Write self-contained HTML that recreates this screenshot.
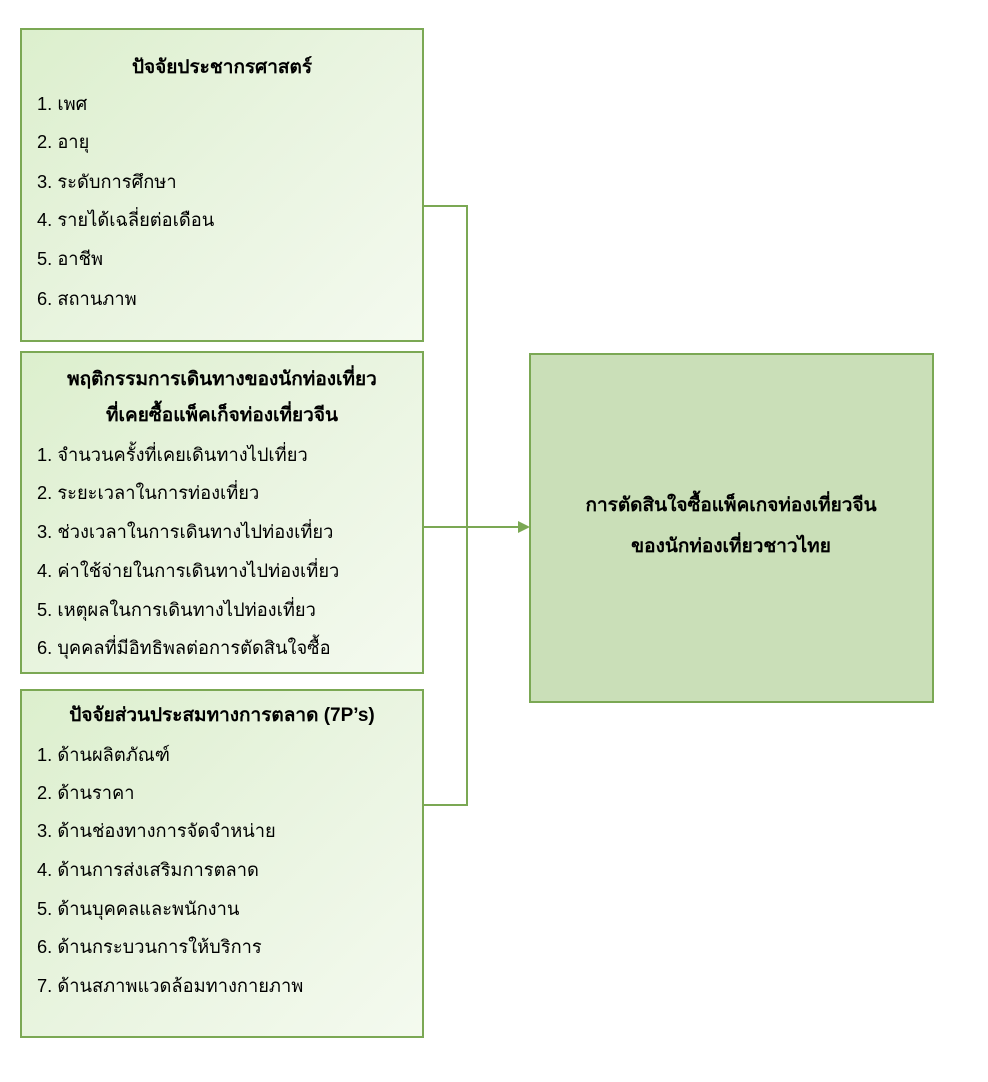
<!DOCTYPE html>
<html><head><meta charset="utf-8"><style>
body{margin:0;width:988px;height:1082px;background:#fff;position:relative;font-family:"Liberation Sans","DejaVu Sans",sans-serif;color:#000;overflow:hidden}
.box{position:absolute;border:2px solid #7ba854;box-sizing:border-box;background:linear-gradient(135deg,#dcefcd 0%,#e9f4e0 50%,#f4faef 100%)}
.t{position:absolute;font-size:18.3px;white-space:nowrap;line-height:24px}
.b{font-weight:bold;font-size:19px}
.c{transform:translateX(-50%)}
</style></head><body>
<div class="box" style="left:20px;top:28px;width:404px;height:314px"></div>
<div class="box" style="left:20px;top:351px;width:404px;height:323px"></div>
<div class="box" style="left:20px;top:689px;width:404px;height:349px"></div>
<div class="box" style="left:529px;top:353px;width:405px;height:350px;background:#cadfb8"></div>
<svg style="position:absolute;left:0;top:0" width="988" height="1082">
<polyline points="424,206 467,206 467,805 424,805" fill="none" stroke="#7ba854" stroke-width="2"/>
<line x1="424" y1="527" x2="520" y2="527" stroke="#7ba854" stroke-width="2"/>
<polygon points="530,527 518,521 518,533" fill="#7ba854"/>
</svg>
<div class="t b c" style="left:222px;top:56px">ปัจจัยประชากรศาสตร์</div>
<div class="t" style="left:37px;top:92px">1. เพศ</div>
<div class="t" style="left:37px;top:130px">2. อายุ</div>
<div class="t" style="left:37px;top:170px">3. ระดับการศึกษา</div>
<div class="t" style="left:37px;top:208px">4. รายได้เฉลี่ยต่อเดือน</div>
<div class="t" style="left:37px;top:247px">5. อาชีพ</div>
<div class="t" style="left:37px;top:287px">6. สถานภาพ</div>
<div class="t b c" style="left:222px;top:368px">พฤติกรรมการเดินทางของนักท่องเที่ยว</div>
<div class="t b c" style="left:222px;top:404px">ที่เคยซื้อแพ็คเก็จท่องเที่ยวจีน</div>
<div class="t" style="left:37px;top:443px">1. จำนวนครั้งที่เคยเดินทางไปเที่ยว</div>
<div class="t" style="left:37px;top:481px">2. ระยะเวลาในการท่องเที่ยว</div>
<div class="t" style="left:37px;top:520px">3. ช่วงเวลาในการเดินทางไปท่องเที่ยว</div>
<div class="t" style="left:37px;top:559px">4. ค่าใช้จ่ายในการเดินทางไปท่องเที่ยว</div>
<div class="t" style="left:37px;top:598px">5. เหตุผลในการเดินทางไปท่องเที่ยว</div>
<div class="t" style="left:37px;top:636px">6. บุคคลที่มีอิทธิพลต่อการตัดสินใจซื้อ</div>
<div class="t b c" style="left:222px;top:704px">ปัจจัยส่วนประสมทางการตลาด (7P’s)</div>
<div class="t" style="left:37px;top:743px">1. ด้านผลิตภัณฑ์</div>
<div class="t" style="left:37px;top:781px">2. ด้านราคา</div>
<div class="t" style="left:37px;top:819px">3. ด้านช่องทางการจัดจำหน่าย</div>
<div class="t" style="left:37px;top:858px">4. ด้านการส่งเสริมการตลาด</div>
<div class="t" style="left:37px;top:897px">5. ด้านบุคคลและพนักงาน</div>
<div class="t" style="left:37px;top:935px">6. ด้านกระบวนการให้บริการ</div>
<div class="t" style="left:37px;top:974px">7. ด้านสภาพแวดล้อมทางกายภาพ</div>
<div class="t b c" style="left:731px;top:494px">การตัดสินใจซื้อแพ็คเกจท่องเที่ยวจีน</div>
<div class="t b c" style="left:731px;top:535px">ของนักท่องเที่ยวชาวไทย</div>
</body></html>
